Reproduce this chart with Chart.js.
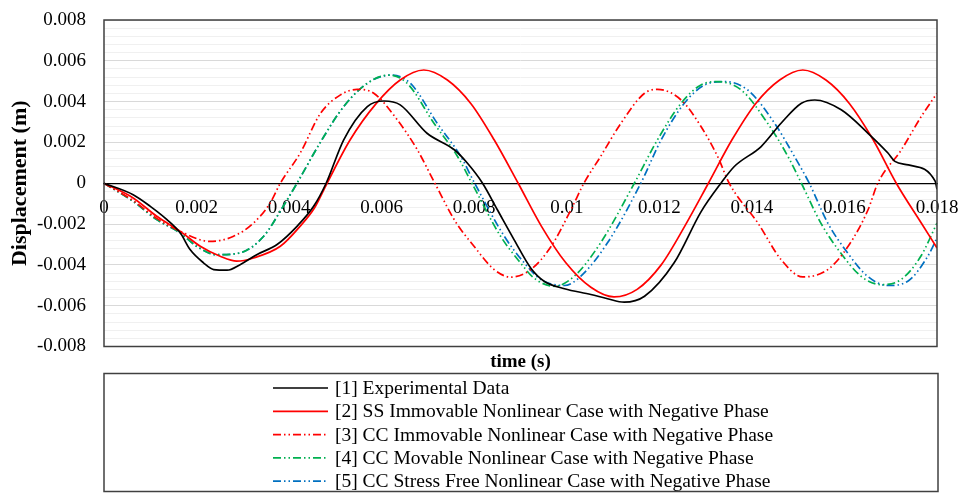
<!DOCTYPE html>
<html>
<head>
<meta charset="utf-8">
<script src="https://cdn.jsdelivr.net/npm/chart.js@4.4.1/dist/chart.umd.min.js"></script>
<style>
  html, body { margin: 0; padding: 0; background: #fff; }
</style>
</head>
<body>
<canvas id="grafico" width="959" height="493"></canvas>
<script>
// valores (tiempo en s, desplazamiento en m)
const expT = [0, 0.00063, 0.001, 0.00136, 0.00165, 0.00186, 0.00215, 0.00237, 0.00266, 0.00294, 0.0033, 0.00374, 0.00417, 0.00453, 0.0048, 0.00518, 0.00569, 0.00605, 0.0064, 0.00698, 0.00757, 0.00785, 0.00818, 0.0085, 0.00886, 0.00922, 0.00951, 0.00995, 0.01052, 0.01088, 0.01124, 0.01168, 0.01232, 0.0129, 0.01333, 0.01362, 0.0142, 0.01463, 0.01507, 0.01536, 0.01593, 0.01651, 0.01694, 0.01709, 0.01738, 0.01796, 0.018];
const expV = [0, -0.00056, -0.00113, -0.00178, -0.00244, -0.00325, -0.0039, -0.00423, -0.00426, -0.00399, -0.0035, -0.003, -0.00211, -0.00113, 0, 0.00213, 0.00376, 0.00403, 0.00384, 0.00245, 0.00164, 0.00099, 0, -0.0013, -0.00276, -0.00415, -0.0048, -0.00517, -0.00545, -0.00566, -0.00583, -0.00554, -0.0039, -0.0014, 0, 0.00082, 0.0018, 0.00294, 0.00392, 0.00408, 0.0036, 0.00245, 0.00148, 0.00107, 0.0009, 0.0001, -0.0003];

const ssT = [0, 0.00063, 0.00114, 0.00165, 0.00208, 0.00251, 0.00287, 0.00323, 0.00381, 0.00424, 0.00455, 0.00482, 0.00532, 0.00588, 0.0064, 0.00691, 0.00742, 0.00793, 0.00843, 0.00895, 0.00945, 0.00998, 0.01052, 0.01102, 0.01152, 0.01204, 0.01255, 0.01306, 0.01357, 0.01408, 0.0146, 0.0151, 0.0156, 0.01611, 0.01662, 0.01712, 0.01766, 0.018];
const ssV = [0, -0.00072, -0.00162, -0.00236, -0.00309, -0.00358, -0.00382, -0.00366, -0.00309, -0.0021, -0.0012, 0, 0.00213, 0.0039, 0.00506, 0.00555, 0.00506, 0.0039, 0.00213, 0, -0.0021, -0.0039, -0.0051, -0.00557, -0.0052, -0.004, -0.0021, 0, 0.00213, 0.0039, 0.00506, 0.00555, 0.00506, 0.0039, 0.00213, 0, -0.00195, -0.00317];

const ccInmT = [0, 0.00063, 0.00114, 0.00165, 0.00229, 0.0028, 0.00323, 0.00359, 0.00381, 0.00424, 0.00468, 0.00511, 0.00547, 0.00583, 0.00634, 0.00677, 0.00715, 0.0076, 0.008, 0.00843, 0.00879, 0.00922, 0.00966, 0.01009, 0.01037, 0.01073, 0.01117, 0.01168, 0.01196, 0.01247, 0.0129, 0.01326, 0.01351, 0.01413, 0.01463, 0.0151, 0.01564, 0.01608, 0.01651, 0.01672, 0.01723, 0.01766, 0.018];
const ccInmV = [0, -0.00085, -0.00172, -0.00236, -0.00285, -0.0026, -0.00195, -0.00097, 0, 0.00148, 0.00343, 0.00433, 0.0046, 0.00441, 0.0031, 0.00164, 0, -0.0019, -0.0031, -0.00423, -0.0046, -0.00423, -0.0031, -0.0013, 0, 0.00131, 0.00294, 0.00441, 0.0046, 0.00408, 0.00278, 0.00131, 0, -0.00195, -0.00374, -0.00459, -0.00423, -0.00309, -0.0013, 0, 0.00164, 0.00327, 0.00441];

const ccMovT = [0, 0.00063, 0.00114, 0.00165, 0.002, 0.00244, 0.00294, 0.00345, 0.00388, 0.00417, 0.0047, 0.00518, 0.00569, 0.00615, 0.00655, 0.00713, 0.00764, 0.00795, 0.00857, 0.009, 0.00929, 0.00973, 0.01016, 0.01073, 0.01146, 0.01196, 0.01247, 0.0129, 0.01326, 0.01377, 0.01434, 0.01478, 0.01507, 0.01549, 0.01592, 0.01636, 0.01679, 0.01722, 0.01765, 0.018];
const ccMovV = [0, -0.00089, -0.00178, -0.00244, -0.00309, -0.0035, -0.00341, -0.0026, -0.0011, 0, 0.0021, 0.00376, 0.0049, 0.0053, 0.0049, 0.00294, 0.00131, 0, -0.0026, -0.0039, -0.00464, -0.00505, -0.00456, -0.00292, 0, 0.00213, 0.00392, 0.00482, 0.00498, 0.00457, 0.00294, 0.00131, 0, -0.00195, -0.00342, -0.00456, -0.00497, -0.00472, -0.00358, -0.00195];

const ccLibT = [0, 0.00063, 0.00114, 0.00165, 0.002, 0.00244, 0.00294, 0.00345, 0.00388, 0.00417, 0.0047, 0.00518, 0.00569, 0.00619, 0.00662, 0.0072, 0.00771, 0.00801, 0.00865, 0.00908, 0.00944, 0.00995, 0.0103, 0.01088, 0.0116, 0.01204, 0.01254, 0.01298, 0.0134, 0.01391, 0.01449, 0.01492, 0.01524, 0.01564, 0.01607, 0.0165, 0.01693, 0.01737, 0.0178, 0.018];
const ccLibV = [0, -0.00089, -0.00178, -0.00244, -0.00309, -0.0035, -0.00341, -0.0026, -0.0011, 0, 0.0021, 0.00376, 0.0049, 0.0053, 0.0049, 0.00294, 0.00131, 0, -0.0026, -0.0039, -0.00472, -0.00501, -0.00456, -0.00292, 0, 0.00213, 0.00392, 0.00482, 0.00498, 0.00457, 0.00294, 0.00131, 0, -0.00195, -0.00342, -0.00456, -0.00501, -0.0048, -0.00358, -0.00268];

const nombres = [
    '[1] Experimental Data',
    '[2] SS Immovable Nonlinear Case with Negative Phase',
    '[3] CC Immovable Nonlinear Case with Negative Phase',
    '[4] CC Movable Nonlinear Case with Negative Phase',
    '[5] CC Stress Free Nonlinear Case with Negative Phase'
];
const xTickLabels = ['0', '0.002', '0.004', '0.006', '0.008', '0.01', '0.012', '0.014', '0.016', '0.018'];
const yTickLabels = ['-0.008', '-0.006', '-0.004', '-0.002', '0', '0.002', '0.004', '0.006', '0.008'];

const fuente = '"Liberation Serif", "Times New Roman", serif';
const rayaPunto = [8, 3, 1.5, 3, 1.5, 3];

const puntos = (t, v) => t.map((x, i) => ({ x: x, y: v[i] }));

function serie(label, t, v, color, dash) {
    return {
        label: label,
        data: puntos(t, v),
        borderColor: color,
        borderWidth: 1.7,
        borderDash: dash,
        pointRadius: 0,
        fill: false,
        cubicInterpolationMode: 'monotone'
    };
}

const esMayor = v => Math.abs(v / 0.002 - Math.round(v / 0.002)) < 1e-6;

// sin relleno extra por las etiquetas, el area la fija layout.padding
const sinRelleno = s => {
    s.paddingTop = 0;
    s.paddingBottom = 0;
    s.paddingLeft = 0;
    s.paddingRight = 0;
};

// marco del area y leyenda tipo Excel
const marcoYLeyenda = {
    id: 'marcoYLeyenda',
    afterDraw(chart) {
        const ctx = chart.ctx;
        const a = chart.chartArea;
        ctx.save();
        ctx.strokeStyle = '#404040';
        ctx.lineWidth = 1.5;
        ctx.strokeRect(a.left, a.top, a.right - a.left, a.bottom - a.top);

        const top = chart.scales.x2.bottom + 0.5;
        const bottom = chart.height - 1.5;
        ctx.strokeRect(a.left, top, a.right - a.left + 1, bottom - top);

        ctx.font = '19.5px ' + fuente;
        ctx.textBaseline = 'middle';
        ctx.fillStyle = '#000';
        chart.data.datasets.forEach((ds, i) => {
            const y = top + 14.5 + i * 23.3;
            const x0 = a.left + 169;
            ctx.strokeStyle = ds.borderColor;
            ctx.lineWidth = ds.borderWidth;
            ctx.setLineDash(ds.borderDash || []);
            ctx.beginPath();
            ctx.moveTo(x0, y);
            ctx.lineTo(x0 + 55, y);
            ctx.stroke();
            ctx.setLineDash([]);
            ctx.fillText(ds.label, x0 + 62, y + 1);
        });
        ctx.restore();
    }
};

const ctx = document.getElementById('grafico').getContext('2d');
new Chart(ctx, {
    type: 'line',
    data: {
        datasets: [
            serie(nombres[0], expT, expV, '#000000', []),
            serie(nombres[1], ssT, ssV, '#ff0000', []),
            serie(nombres[2], ccInmT, ccInmV, '#ff0000', rayaPunto),
            serie(nombres[3], ccMovT, ccMovV, '#00b050', rayaPunto),
            serie(nombres[4], ccLibT, ccLibV, '#0070c0', rayaPunto)
        ]
    },
    options: {
        responsive: false,
        animation: false,
        layout: { padding: { left: 0, right: 22, top: 20, bottom: 120 } },
        plugins: {
            legend: { display: false },
            tooltip: { enabled: false }
        },
        scales: {
            x: {
                type: 'linear',
                min: 0,
                max: 0.018,
                position: { y: 0 },
                grid: { color: 'rgba(0,0,0,0)', drawTicks: false },
                border: { display: true, color: '#000', width: 1.3 },
                ticks: {
                    stepSize: 0.002,
                    autoSkip: false,
                    maxRotation: 0,
                    padding: 13,
                    color: '#000',
                    font: { family: fuente, size: 19 },
                    callback: v => xTickLabels[Math.round(v / 0.002)]
                },
                afterFit: sinRelleno
            },
            x2: {
                type: 'linear',
                position: 'bottom',
                min: 0,
                max: 1,
                ticks: { display: false },
                grid: { display: false, drawTicks: false },
                border: { display: false },
                title: {
                    display: true,
                    text: 'time (s)',
                    color: '#000',
                    font: { family: fuente, size: 19, weight: 'bold' },
                    padding: { top: 0, bottom: 0 }
                },
                afterFit: s => { sinRelleno(s); s.height = 26.5; }
            },
            y: {
                min: -0.008,
                max: 0.008,
                grid: {
                    drawTicks: false,
                    lineWidth: 1,
                    color: c => esMayor(c.tick.value) ? '#d9d9d9' : '#f0f0f0'
                },
                border: { display: false },
                ticks: {
                    stepSize: 0.0004,
                    autoSkip: false,
                    padding: 18,
                    color: '#000',
                    font: { family: fuente, size: 19 },
                    callback: v => esMayor(v) ? yTickLabels[Math.round((v + 0.008) / 0.002)] : ''
                },
                title: {
                    display: true,
                    text: 'Displacement (m)',
                    color: '#000',
                    font: { family: fuente, size: 22, weight: 'bold' },
                    padding: { top: 7, bottom: 0 }
                },
                afterFit: s => { sinRelleno(s); s.width = 104; }
            }
        }
    },
    plugins: [marcoYLeyenda]
});
</script>
</body>
</html>
